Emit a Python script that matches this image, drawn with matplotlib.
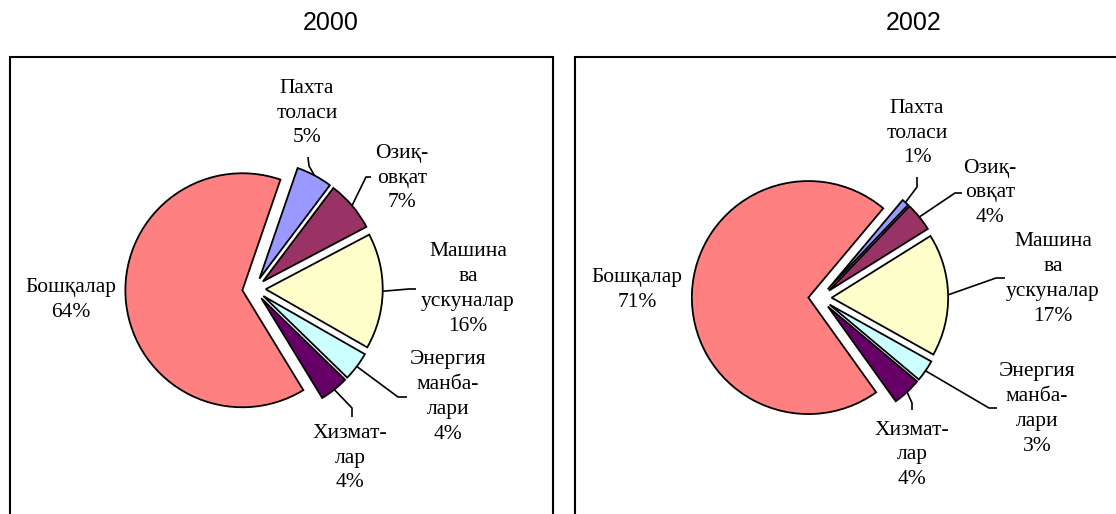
import matplotlib
matplotlib.use("Agg")
import matplotlib.pyplot as plt
from matplotlib.patches import Rectangle
import numpy as np

# Export structure by commodity group, share of total (%)
categories = ["Пахта\nтоласи", "Озиқ-\nовқат", "Машина\nва\nускуналар",
              "Энергия\nманба-\nлари", "Хизмат-\nлар", "Бошқалар"]
years = ["2000", "2002"]
shares_2000 = [5, 7, 16, 4, 4, 64]
shares_2002 = [1, 4, 17, 3, 4, 71]
slice_colors = ["#9999FF", "#993366", "#FFFFCC", "#CCFFFF", "#660066", "#FF8080"]

W, H = 1116, 514          # canvas size in pixels
EXPLODE = 0.1             # explosion as a fraction of radius


def up(y):
    """Convert a top-down pixel row into the y-up data coordinate."""
    return H - y


# Panel layout in pixel units (y measured from the top edge)
panels = [
    dict(year=years[0], values=shares_2000,
         box=(10, 57, 553), title=(331, 23),
         center=(254, 289), radius=117, start=71,
         labels=[(307, 113), (402, 178), (468, 289), (448, 397), (350, 458), (71, 300)],
         stubs=[((308, 157), (309, 166)), ((371, 177), (366, 177)),
                ((416, 289), (409, 289)), ((407, 397), (398, 397)),
                ((352, 417), (352, 408)), None]),
    dict(year=years[1], values=shares_2002,
         box=(575, 57, 1130), title=(914, 23),
         center=(820, 298), radius=116.5, start=50,
         labels=[(917, 133), (990, 193), (1053, 279), (1037, 409), (912, 455), (637, 290)],
         stubs=[((917, 177), (917, 187)), ((962, 193), (955, 193)),
                ((1005, 278), (996, 278)), ((997, 408), (989, 408)),
                ((912, 410), (912, 403)), None]),
]

fig = plt.figure(figsize=(W / 100, H / 100), dpi=100)
ax = fig.add_axes([0, 0, 1, 1])

serif = ["Liberation Serif", "DejaVu Serif"]
sans = ["Liberation Sans", "DejaVu Sans"]

for p in panels:
    left, top, right = p["box"]
    ax.add_patch(Rectangle((left, up(H + 20)), right - left, H + 20 - top,
                           facecolor="white", edgecolor="black", lw=1.5, zorder=1))
    ax.text(p["title"][0], up(p["title"][1]), p["year"], ha="center", va="center",
            fontsize=18, family=sans, color="black", zorder=5)

    cx, cy = p["center"]
    r = p["radius"]
    wedges, _ = ax.pie(p["values"], colors=slice_colors,
                       explode=[EXPLODE * r] * len(p["values"]),
                       radius=r, center=(cx, up(cy)), startangle=p["start"],
                       counterclock=False,
                       wedgeprops=dict(edgecolor="black", linewidth=1.3, zorder=2))

    for w, cat, val, pos, stub in zip(wedges, categories, p["values"],
                                      p["labels"], p["stubs"]):
        ax.text(pos[0], up(pos[1]), f"{cat}\n{val}%", ha="center", va="center",
                fontsize=15.5, family=serif, linespacing=1.42, color="black", zorder=5)
        if stub is None:
            continue
        # leader line: label stub -> elbow -> middle of the wedge's outer arc
        mid = np.deg2rad(0.5 * (w.theta1 + w.theta2))
        wx = w.center[0] + w.r * np.cos(mid)
        wy = w.center[1] + w.r * np.sin(mid)
        (sx, sy), (ex, ey) = stub
        ax.plot([sx, ex, wx], [up(sy), up(ey), wy], color="black", lw=1.2,
                solid_capstyle="butt", zorder=3)

ax.set_xlim(0, W)
ax.set_ylim(0, H)
ax.set_aspect("auto")
ax.axis("off")

fig.savefig("out.png", dpi=100, facecolor="white")
